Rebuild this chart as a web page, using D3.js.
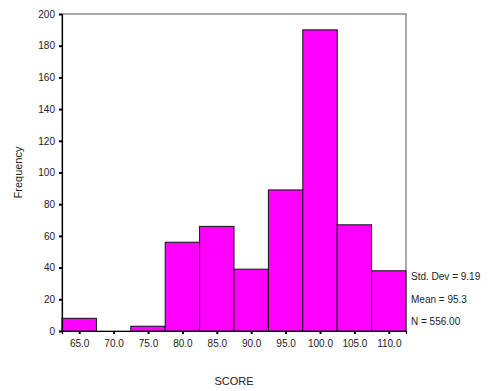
<!DOCTYPE html>
<html>
<head>
<meta charset="utf-8">
<script src="https://cdn.jsdelivr.net/npm/d3@7"></script>
<style>
  body { margin: 0; background: #fff; }
  text { font-family: "Liberation Sans", Arial, sans-serif; fill: #222; }
</style>
</head>
<body>
<div id="chart"></div>
<script>
// histogram of SCORE, bins centred on these midpoints
const binMids = [65, 70, 75, 80, 85, 90, 95, 100, 105, 110];
const freqs = [8, 0, 3, 56, 66, 39, 89, 190, 67, 38];
const yTicks = [0, 20, 40, 60, 80, 100, 120, 140, 160, 180, 200];
const statLines = ['Std. Dev = 9.19', 'Mean = 95.3', 'N = 556.00'];
const binWidth = 5;

const width = 493, height = 391;
const margin = { top: 14, right: 87, bottom: 60, left: 62 };

const svg = d3.select('#chart').append('svg')
    .attr('width', width)
    .attr('height', height);

const x = d3.scaleLinear()
    .domain([binMids[0] - binWidth / 2, binMids[binMids.length - 1] + binWidth / 2])
    .range([margin.left, width - margin.right]);

const y = d3.scaleLinear()
    .domain([0, 200])
    .range([height - margin.bottom, margin.top]);

// frame top/right
svg.append('rect')
    .attr('x', x.range()[0])
    .attr('y', y(200))
    .attr('width', x.range()[1] - x.range()[0])
    .attr('height', y(0) - y(200))
    .attr('fill', 'none')
    .attr('stroke', '#555')
    .attr('stroke-width', 1);

// bars
svg.append('g')
    .selectAll('rect')
    .data(binMids.map((m, i) => ({ mid: m, f: freqs[i] })))
    .enter()
    .append('rect')
    .attr('x', d => x(d.mid - binWidth / 2))
    .attr('y', d => y(d.f))
    .attr('width', d => x(d.mid + binWidth / 2) - x(d.mid - binWidth / 2))
    .attr('height', d => y(0) - y(d.f))
    .attr('fill', '#ff00ff')
    .attr('stroke', '#111')
    .attr('stroke-width', 1);

// y axis
const yAxis = svg.append('g')
    .attr('transform', `translate(${margin.left},0)`)
    .call(d3.axisLeft(y).tickValues(yTicks).tickSize(3).tickPadding(4).tickFormat(d3.format('d')));
yAxis.select('.domain').attr('stroke', '#000').attr('stroke-width', 1.2);
yAxis.selectAll('.tick line').attr('stroke', '#000').attr('stroke-width', 2);
yAxis.selectAll('.tick text').style('font-size', '10px').attr('fill', '#222');

// x axis
const xAxis = svg.append('g')
    .attr('transform', `translate(0,${y(0)})`)
    .call(d3.axisBottom(x).tickValues(binMids).tickSize(3).tickPadding(6).tickFormat(d3.format('.1f')));
xAxis.select('.domain').attr('stroke', '#000').attr('stroke-width', 1.2);
xAxis.selectAll('.tick line').attr('stroke', '#000').attr('stroke-width', 2);
xAxis.selectAll('.tick text').style('font-size', '10px').attr('fill', '#222');

// axis titles
svg.append('text')
    .attr('transform', `translate(22,${(y(0) + y(200)) / 2}) rotate(-90)`)
    .attr('text-anchor', 'middle')
    .style('font-size', '11px')
    .text('Frequency');

svg.append('text')
    .attr('x', (x.range()[0] + x.range()[1]) / 2)
    .attr('y', 385)
    .attr('text-anchor', 'middle')
    .style('font-size', '11px')
    .text('SCORE');

// stats box
svg.append('g')
    .selectAll('text')
    .data(statLines)
    .enter()
    .append('text')
    .attr('x', x.range()[1] + 5)
    .attr('y', (d, i) => 280 + i * 22.5)
    .style('font-size', '10px')
    .text(d => d);
</script>
</body>
</html>
